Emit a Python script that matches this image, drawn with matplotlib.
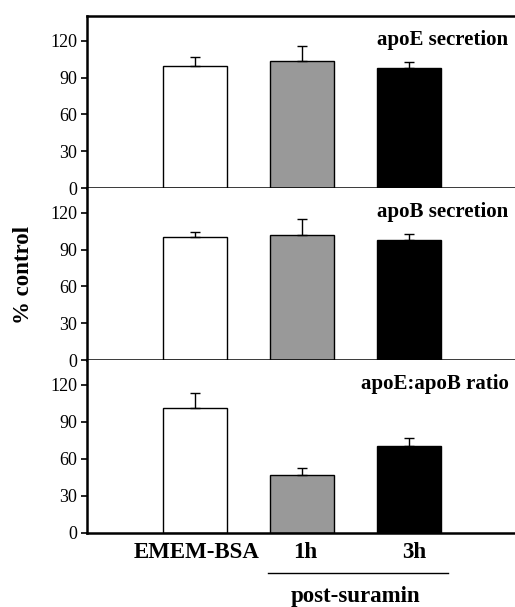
import matplotlib
matplotlib.use("Agg")
import matplotlib.pyplot as plt

# data (% control, mean and upper SD)
groups = ["EMEM-BSA", "1h", "3h"]
group_x = [0.01, 1.03, 2.05]
colors = ["white", "#999999", "black"]
panels = ["apoE secretion", "apoB secretion", "apoE:apoB ratio"]
apoe_mean = [99, 103.5, 97.5]
apoe_err = [7.5, 12.5, 5]
apob_mean = [100, 102, 97.5]
apob_err = [4.5, 13, 4.8]
ratio_mean = [101.5, 47, 70]
ratio_err = [12, 5.3, 7]
yticks = [0, 30, 60, 90, 120]

plt.rcParams["font.family"] = ["Liberation Serif", "DejaVu Serif"]


def draw_panel(ax, means, errs, title, top_spine):
    x = list(range(len(means)))
    ax.bar(x, means, width=0.6, color=colors, edgecolor="black", linewidth=1)
    ax.errorbar(x, means, yerr=[[0] * len(errs), errs], fmt="none",
                ecolor="black", elinewidth=1, capsize=3.5, capthick=1)
    ax.set_xlim(-1.01, 2.99)
    ax.set_ylim(0, 140)
    ax.set_yticks(yticks)
    ax.tick_params(axis="y", direction="out", length=4, width=1.2,
                   labelsize=13, pad=3)
    ax.set_xticks([])
    ax.spines["right"].set_visible(False)
    ax.spines["top"].set_visible(top_spine)
    for s in ["left", "bottom", "top"]:
        ax.spines[s].set_linewidth(1.8)
    ax.text(0.985, 0.86, title, transform=ax.transAxes, ha="right",
            va="center", fontsize=15, fontweight="bold")


fig = plt.figure(figsize=(5.15, 6.07), dpi=100)
left, width = 0.169, 0.831
ax1 = fig.add_axes([left, 0.690, width, 0.2836])
ax2 = fig.add_axes([left, 0.4069, width, 0.2831])
ax3 = fig.add_axes([left, 0.1224, width, 0.2845])

draw_panel(ax1, apoe_mean, apoe_err, panels[0], True)
draw_panel(ax2, apob_mean, apob_err, panels[1], False)
draw_panel(ax3, ratio_mean, ratio_err, panels[2], False)

fig.text(0.045, 0.547, "% control", rotation=90, ha="center", va="center",
         fontsize=16.5, fontweight="bold")

# x labels under the bottom panel
for gx, g in zip(group_x, groups):
    ax3.text(gx, -16, g, ha="center", va="center", fontsize=16.5,
             fontweight="bold", clip_on=False)
ax3.plot([0.68, 2.36], [-32.4, -32.4], color="black", linewidth=1,
         clip_on=False)
ax3.text(1.50, -51.5, "post-suramin", ha="center", va="center",
         fontsize=16.5, fontweight="bold", clip_on=False)

fig.savefig("out.png", dpi=100)
